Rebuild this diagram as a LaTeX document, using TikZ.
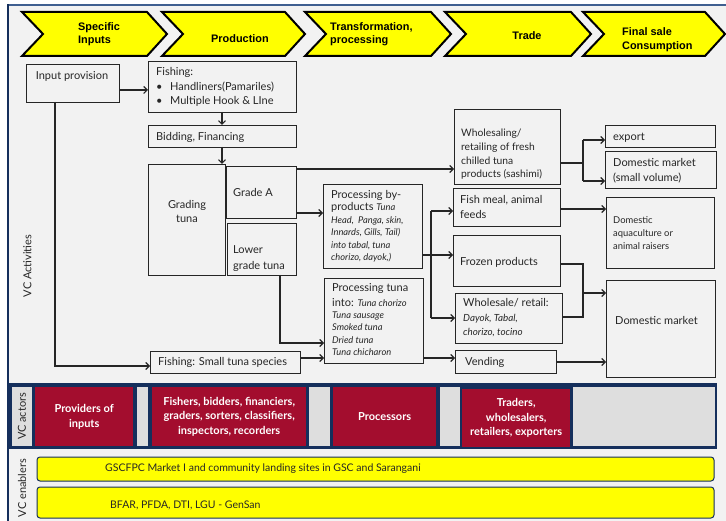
\documentclass[tikz,border=0pt]{standalone}
\usepackage{fontspec}
\setmainfont{Lato}
\newfontfamily\headfont{Liberation Sans}
\usetikzlibrary{arrows.meta}

\definecolor{panel}{HTML}{F2F2F2}
\definecolor{frameblue}{HTML}{3F5F90}
\definecolor{navy}{HTML}{152F5C}
\definecolor{actorred}{HTML}{A30D2E}
\definecolor{cellgray}{HTML}{DEDEDE}
\definecolor{ink}{HTML}{262626}
\definecolor{chevyellow}{HTML}{FFFF00}

% rectangle node given by its top-left and bottom-right corners
\newcommand\rectnode[7]{%
  \node[#1, anchor=north west, minimum width={(#5-#3)*1pt},
        minimum height={(#6-#4)*1pt}] (#2) at (#3,#4) {#7};}
% chevron of the stage header
\newcommand\chevron[2]{%
  \draw[chev] (#1,12) -- ({#2-20},12) -- (#2,34) -- ({#2-20},56)
    -- (#1,56) -- ({#1+21},34) -- cycle;}
% italic detail lines inside the process boxes
\newcommand\detail[1]{{\itshape\fontsize{9.3}{12.5}\selectfont #1}}

\begin{document}
\begin{tikzpicture}[x=1pt,y=-1pt,
  box/.style={draw=ink, line width=0.9pt, inner sep=0pt, outer sep=0pt},
  txt/.style={inner sep=0pt, text=ink, align=left,
    font=\fontsize{11}{14.5}\selectfont},
  stxt/.style={txt, font=\fontsize{9.4}{13.2}\selectfont},
  conn/.style={draw=ink, line width=1.1pt},
  arr/.style={conn, -{Straight Barb[length=3.5pt,width=7pt]}},
  chev/.style={fill=chevyellow, draw=black, line width=2pt, line join=miter},
  head/.style={inner sep=0pt, text=black, align=left,
    font=\headfont\bfseries\fontsize{10.9}{13.5}\selectfont},
  actor/.style={fill=actorred, draw=none, inner sep=0pt, text=white,
    align=center, font=\bfseries\fontsize{11}{14.5}\selectfont},
  bar/.style={fill=chevyellow, draw=navy, line width=1pt, rounded corners=3pt},
  side/.style={rotate=90, inner sep=0pt, text=ink,
    font=\fontsize{11}{12}\selectfont}
]
\useasboundingbox (0,0) rectangle (726,521);
\clip (0,0) rectangle (726,521);

% page and panel
\fill[white] (0,0) rectangle (726,521);
\fill[panel] (8,5) rectangle (740,540);
\draw[frameblue, line width=1.5pt] (8,5) -- (740,5);
\draw[navy, line width=2pt] (8,4.5) -- (8,540);

% stage header (multi-line labels are placed by their last baseline)
\chevron{22}{167}
\chevron{162}{305}
\chevron{305}{451}
\chevron{445}{591}
\chevron{583}{725}
\node[head, anchor=base west] (stage1) at (78,43.8) {Specific\\Inputs};
\node[head, anchor=base west] (stage2) at (211,43) {Production};
\node[head, anchor=base west] (stage3) at (330,43.8) {Transformation,\\processing};
\node[head, anchor=base] (stage4) at (527,40) {Trade};
\node[head, anchor=base west] (stage5) at (622,49.8)
  {Final sale\\[0.5pt]Consumption};

% activity boxes
\rectnode{box}{inprov}{26}{64}{119}{102}{}
\rectnode{box}{fishing}{148}{61}{296}{112}{}
\rectnode{box}{bidding}{148}{125}{296}{147}{}
\rectnode{box}{grading}{148}{164}{225}{275}{}
\rectnode{box}{gradeA}{226}{166}{296}{218}{}
\rectnode{box}{lower}{227}{223}{296}{275}{}
\rectnode{box}{byprod}{323}{184}{422}{268}{}
\rectnode{box}{proctuna}{324}{278}{423}{363}{}
\rectnode{box}{smallfish}{150}{351}{300}{373}{}
\rectnode{box}{whole}{454}{109}{560}{184}{}
\rectnode{box}{export}{605}{125}{715}{147}{}
\rectnode{box}{domsmall}{605}{151}{716}{188}{}
\rectnode{box}{fishmeal}{453}{188}{560}{226}{}
\rectnode{box}{aqua}{606}{197}{714}{268}{}
\rectnode{box}{frozen}{453}{235}{560}{286}{}
\rectnode{box}{wret}{455}{293}{562}{343}{}
\rectnode{box}{vending}{455}{350}{556}{373}{}
\rectnode{box}{dommkt}{606}{280}{715}{377}{}

% box texts (multi-line texts are placed by their last baseline)
\node[txt, anchor=base] (inprovT) at (72,80) {Input provision};
\node[txt, anchor=base west] (fishingT) at (156,104.7)
  {Fishing:\\
   \makebox[14pt][l]{\textbullet}Handliners(Pamariles)\\
   \makebox[14pt][l]{\textbullet}Multiple Hook \& LIne};
\node[txt, anchor=base west] (biddingT) at (156,140.7) {Bidding, Financing};
\node[txt, anchor=base, align=center] (gradingT) at (187,222.7) {Grading\\tuna};
\node[txt, anchor=base west] (gradeAT) at (233,196.5) {Grade A};
\node[txt, anchor=base west] (lowerT) at (233,269.7) {Lower\\[1.5pt]grade tuna};
\node[txt, anchor=base west, font=\fontsize{11}{12.5}\selectfont] (byprodT)
  at (331,261)
  {Processing by-\\
   products \detail{Tuna}\\
   \detail{Head,\ \ Panga, skin,}\\
   \detail{Innards, Gills, Tail)}\\
   \detail{into tabal, tuna}\\
   \detail{chorizo, dayok,)}};
\node[txt, anchor=base west, font=\fontsize{11}{12.5}\selectfont] (proctunaT)
  at (332,356)
  {Processing tuna\\[1.5pt]
   into: \detail{Tuna chorizo}\\
   \detail{Tuna sausage}\\
   \detail{Smoked tuna}\\
   \detail{Dried tuna}\\
   \detail{Tuna chicharon}};
\node[txt, anchor=base west] (smallfishT) at (158,365.7)
  {Fishing: Small tuna species};
\node[txt, anchor=base west, font=\fontsize{10.3}{13.6}\selectfont] (wholeT)
  at (461,177.7)
  {Wholesaling/\\retailing of fresh\\chilled tuna\\products (sashimi)};
\node[txt, anchor=base west] (exportT) at (613,140.7) {export};
\node[txt, anchor=base west, font=\fontsize{11}{15}\selectfont] (domsmallT)
  at (613,181.7) {Domestic market\\(small volume)};
\node[txt, anchor=base west, font=\fontsize{11}{15}\selectfont] (fishmealT)
  at (460,218.7) {Fish meal, animal\\feeds};
\node[stxt, anchor=base west] (aquaT) at (613,250)
  {Domestic\\aquaculture or\\animal raisers};
\node[txt, anchor=base west] (frozenT) at (460,265.7) {Frozen products};
\node[txt, anchor=base west] (wretT) at (463,336)
  {Wholesale/ retail:\\
   {\itshape\fontsize{9.8}{14}\selectfont Dayok, Tabal,}\\
   {\itshape\fontsize{9.8}{14}\selectfont chorizo, tocino}};
\node[txt, anchor=base west] (vendingT) at (465,365.7) {Vending};
\node[txt, anchor=base west] (dommktT) at (615,324.7) {Domestic market};

% connectors
\coordinate (jt) at (431,211);
\coordinate (jb) at (431,318);
\coordinate (sm) at (583,163);
\coordinate (st) at (583,140);
\coordinate (sb) at (583,181);
\coordinate (dt) at (583,264);
\coordinate (db) at (583,317);
\coordinate (dm) at (583,293);

\draw[arr] (inprov.east |- 0,90) -- (fishing.west |- 0,90);
\draw[arr] (fishing.south) -- (bidding.north);
\draw[arr] (bidding.south) -- (bidding.south |- grading.north);
\draw[arr] (gradeA.east |- 0,169) -- (whole.west |- 0,169);
\draw[arr] (gradeA.east |- 0,213) -- (byprod.west |- 0,213);
\draw[arr] (lower.south -| 280,0) |- (proctuna.west |- 0,343);
\draw[arr] (inprov.south -| 55,0) |- (smallfish.west |- 0,366);
\draw[arr] (smallfish.east |- 0,358) -- (proctuna.west |- 0,358);
\draw[arr] (byprod.east |- 0,255) -- (frozen.west |- 0,255);
\draw[conn] (jt) -- (jb);
\draw[arr] (jt) -- (fishmeal.west |- jt);
\draw[arr] (jb) -- (wret.west |- jb);
\draw[arr] (proctuna.east |- 0,358) -- (vending.west |- 0,358);
\draw[conn] (whole.east |- sm) -- (sm);
\draw[conn] (st) -- (sb);
\draw[arr] (st) -- (export.west |- st);
\draw[arr] (sb) -- (domsmall.west |- sb);
\draw[arr] (fishmeal.east |- 0,209) -- (aqua.west |- 0,209);
\draw[conn] (frozen.east |- dt) -- (dt) -- (db) -- (wret.east |- db);
\draw[arr] (dm) -- (dommkt.west |- dm);
\draw[arr] (vending.east |- 0,362) -- (dommkt.west |- 0,362);

\node[side] (actLabel) at (27.5,266) {VC Activities};

% value chain actors
\fill[navy] (8,383) rectangle (717,449);
\fill[cellgray] (12,387) rectangle (32,446);
\fill[cellgray] (137,387) rectangle (148,446);
\fill[cellgray] (309,387) rectangle (330,446);
\fill[cellgray] (440,387) rectangle (460,446);
\fill[cellgray] (573,387) rectangle (715,446);
\node[side] (actorsLabel) at (22,416.5) {VC actors};
\rectnode{actor}{act1}{35}{387}{133}{446}{Providers of\\inputs}
\rectnode{actor}{act2}{152}{387}{306}{446}
  {Fishers, bidders, financiers,\\graders, sorters, classifiers,\\inspectors, recorders}
\rectnode{actor}{act3}{333}{387}{436}{446}{Processors}
\rectnode{actor}{act4}{462}{389}{570}{447}
  {Traders,\\wholesalers,\\retailers, exporters}

% value chain enablers
\draw[navy, line width=2pt] (8,449) -- (8,540);
\node[side] (enablersLabel) at (22,488) {VC enablers};
\draw[bar] (37,457) rectangle (714,481);
\draw[bar] (37,487) rectangle (714,518);
\node[txt, anchor=base west, font=\fontsize{10.5}{12}\selectfont] (bar1T)
  at (105,471.5)
  {GSCFPC Market I and community landing sites in GSC and Sarangani};
\node[txt, anchor=base west, font=\fontsize{10.5}{12}\selectfont] (bar2T)
  at (110,508.5) {BFAR, PFDA, DTI, LGU - GenSan};
\end{tikzpicture}
\end{document}
